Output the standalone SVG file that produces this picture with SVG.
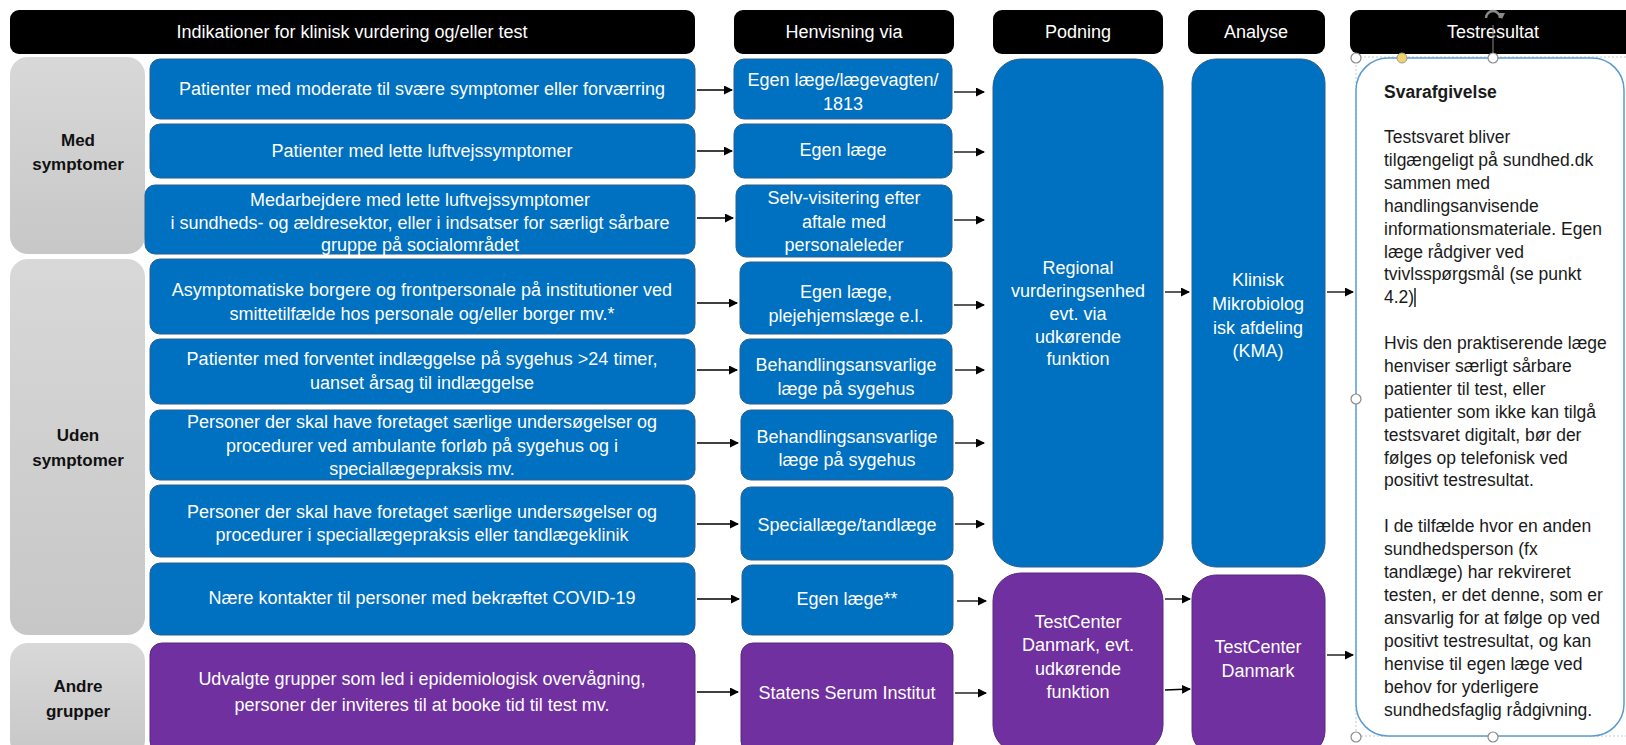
<svg xmlns="http://www.w3.org/2000/svg" width="1626" height="745" viewBox="0 0 1626 745">
<defs>
<style>
text{font-family:"Liberation Sans",Arial,sans-serif}
.hdr{fill:#000}
.ht{fill:#fff;font-size:18px;text-anchor:middle}
.cat{fill:url(#gg)}
.ct{font-size:17px;font-weight:bold;fill:#111;text-anchor:middle}
.b{fill:#0070c0;stroke:#2b5e8e;stroke-width:1}
.p{fill:#7030a0;stroke:#56287d;stroke-width:1}
.t{fill:#fff;font-size:18px;text-anchor:middle}
.c{stroke:#000;stroke-width:1.3;fill:none;marker-end:url(#ah)}
.rt{font-size:17.5px;fill:#1a1a1a}
.hd{fill:#fff;stroke:#8a8a8a;stroke-width:1.2}
</style>
<marker id="ah" markerWidth="9" markerHeight="9" refX="8" refY="4.5" orient="auto" markerUnits="userSpaceOnUse"><path d="M0,0 L9,4.5 L0,9 z" fill="#000"/></marker>
<linearGradient id="gg" x1="0" y1="0" x2="0" y2="1"><stop offset="0" stop-color="#d8d8d8"/><stop offset="1" stop-color="#c7c7c7"/></linearGradient>
</defs>
<rect width="1626" height="745" fill="#fff"/>

<g id="headers">
<g id="h1"><rect class="hdr" x="10" y="10" width="685" height="44" rx="9"/><text class="ht" x="352" y="38">Indikationer for klinisk vurdering og/eller test</text></g>
<g id="h2"><rect class="hdr" x="734" y="10" width="220" height="44" rx="9"/><text class="ht" x="844" y="38">Henvisning via</text></g>
<g id="h3"><rect class="hdr" x="993" y="10" width="170" height="44" rx="9"/><text class="ht" x="1078" y="38">Podning</text></g>
<g id="h4"><rect class="hdr" x="1188" y="10" width="137" height="44" rx="9"/><text class="ht" x="1256" y="38">Analyse</text></g>
<g id="h5"><rect class="hdr" x="1350" y="10" width="290" height="44" rx="9"/><text class="ht" x="1493" y="38">Testresultat</text></g>
</g>

<g id="categories">
<g id="cat-med"><rect class="cat" x="10" y="57" width="135" height="197" rx="18"/><text class="ct" x="78" y="146">Med</text><text class="ct" x="78" y="170">symptomer</text></g>
<g id="cat-uden"><rect class="cat" x="10" y="259" width="135" height="376" rx="18"/><text class="ct" x="78" y="441">Uden</text><text class="ct" x="78" y="466">symptomer</text></g>
<g id="cat-andre"><rect class="cat" x="10" y="643" width="135" height="115" rx="18"/><text class="ct" x="78" y="692">Andre</text><text class="ct" x="78" y="717">grupper</text></g>
</g>

<g id="indications">
<g id="i1"><rect class="b" x="150" y="59" width="545" height="60" rx="10"/><text class="t" x="422" y="95">Patienter med moderate til svære symptomer eller forværring</text></g>
<g id="i2"><rect class="b" x="150" y="124" width="545" height="54" rx="10"/><text class="t" x="422" y="157">Patienter med lette luftvejssymptomer</text></g>
<g id="i3"><rect class="b" x="145" y="185" width="550" height="69" rx="10"/><text class="t" x="420" y="206">Medarbejdere med lette luftvejssymptomer</text><text class="t" x="420" y="229">i sundheds- og ældresektor, eller i indsatser for særligt sårbare</text><text class="t" x="420" y="251">gruppe på socialområdet</text></g>
<g id="i4"><rect class="b" x="150" y="259" width="545" height="75" rx="10"/><text class="t" x="422" y="296">Asymptomatiske borgere og frontpersonale på institutioner ved</text><text class="t" x="422" y="320">smittetilfælde hos personale og/eller borger mv.*</text></g>
<g id="i5"><rect class="b" x="150" y="339" width="545" height="65" rx="10"/><text class="t" x="422" y="365">Patienter med forventet indlæggelse på sygehus &gt;24 timer,</text><text class="t" x="422" y="389">uanset årsag til indlæggelse</text></g>
<g id="i6"><rect class="b" x="150" y="410" width="545" height="70" rx="10"/><text class="t" x="422" y="428">Personer der skal have foretaget særlige undersøgelser og</text><text class="t" x="422" y="452">procedurer ved ambulante forløb på sygehus og i</text><text class="t" x="422" y="475">speciallægepraksis mv.</text></g>
<g id="i7"><rect class="b" x="150" y="485" width="545" height="72" rx="10"/><text class="t" x="422" y="518">Personer der skal have foretaget særlige undersøgelser og</text><text class="t" x="422" y="541">procedurer i speciallægepraksis eller tandlægeklinik</text></g>
<g id="i8"><rect class="b" x="150" y="563" width="545" height="72" rx="10"/><text class="t" x="422" y="604">Nære kontakter til personer med bekræftet COVID-19</text></g>
<g id="i9"><rect class="p" x="150" y="643" width="545" height="110" rx="12"/><text class="t" x="422" y="685">Udvalgte grupper som led i epidemiologisk overvågning,</text><text class="t" x="422" y="711">personer der inviteres til at booke tid til test mv.</text></g>
</g>

<g id="referrals">
<g id="r1"><rect class="b" x="734" y="59" width="218" height="60" rx="10"/><text class="t" x="843" y="86">Egen læge/lægevagten/</text><text class="t" x="843" y="110">1813</text></g>
<g id="r2"><rect class="b" x="734" y="124" width="218" height="54" rx="10"/><text class="t" x="843" y="156">Egen læge</text></g>
<g id="r3"><rect class="b" x="736" y="185" width="216" height="72" rx="10"/><text class="t" x="844" y="204">Selv-visitering efter</text><text class="t" x="844" y="228">aftale med</text><text class="t" x="844" y="251">personaleleder</text></g>
<g id="r4"><rect class="b" x="740" y="262" width="212" height="72" rx="10"/><text class="t" x="846" y="298">Egen læge,</text><text class="t" x="846" y="322">plejehjemslæge e.l.</text></g>
<g id="r5"><rect class="b" x="740" y="339" width="212" height="65" rx="10"/><text class="t" x="846" y="371">Behandlingsansvarlige</text><text class="t" x="846" y="395">læge på sygehus</text></g>
<g id="r6"><rect class="b" x="741" y="410" width="212" height="70" rx="10"/><text class="t" x="847" y="443">Behandlingsansvarlige</text><text class="t" x="847" y="466">læge på sygehus</text></g>
<g id="r7"><rect class="b" x="741" y="487" width="212" height="73" rx="10"/><text class="t" x="847" y="531">Speciallæge/tandlæge</text></g>
<g id="r8"><rect class="b" x="742" y="565" width="211" height="70" rx="10"/><text class="t" x="847" y="605">Egen læge**</text></g>
<g id="r9"><rect class="p" x="741" y="643" width="212" height="110" rx="12"/><text class="t" x="847" y="699">Statens Serum Institut</text></g>
</g>

<g id="podning">
<g id="pod-regional"><rect class="b" x="993" y="59" width="170" height="508" rx="28"/><text class="t" x="1078" y="274">Regional</text><text class="t" x="1078" y="297">vurderingsenhed</text><text class="t" x="1078" y="320">evt.  via</text><text class="t" x="1078" y="343">udkørende</text><text class="t" x="1078" y="365">funktion</text></g>
<g id="pod-testcenter"><rect class="p" x="993" y="573" width="170" height="180" rx="28"/><text class="t" x="1078" y="628">TestCenter</text><text class="t" x="1078" y="651">Danmark, evt.</text><text class="t" x="1078" y="675">udkørende</text><text class="t" x="1078" y="698">funktion</text></g>
</g>

<g id="analyse">
<g id="ana-kma"><rect class="b" x="1192" y="59" width="133" height="508" rx="24"/><text class="t" x="1258" y="286">Klinisk</text><text class="t" x="1258" y="310">Mikrobiolog</text><text class="t" x="1258" y="334">isk afdeling</text><text class="t" x="1258" y="357">(KMA)</text></g>
<g id="ana-testcenter"><rect class="p" x="1192" y="575" width="133" height="180" rx="24"/><text class="t" x="1258" y="653">TestCenter</text><text class="t" x="1258" y="677">Danmark</text></g>
</g>

<g id="testresultat">
<rect x="1356" y="57" width="290" height="679" fill="none" stroke="#c8c8c8" stroke-width="1" stroke-dasharray="2,2"/>
<rect x="1356" y="58" width="268" height="678" rx="32" fill="#fff" stroke="#5b9bd5" stroke-width="1.5"/>
<text class="rt" x="1384" y="98" font-weight="bold">Svarafgivelse</text>
<text class="rt" x="1384" y="143">
<tspan x="1384" dy="0">Testsvaret bliver</tspan>
<tspan x="1384" dy="22.9">tilgængeligt på sundhed.dk</tspan>
<tspan x="1384" dy="22.9">sammen med</tspan>
<tspan x="1384" dy="22.9">handlingsanvisende</tspan>
<tspan x="1384" dy="22.9">informationsmateriale. Egen</tspan>
<tspan x="1384" dy="22.9">læge rådgiver ved</tspan>
<tspan x="1384" dy="22.9">tvivlsspørgsmål (se punkt</tspan>
<tspan x="1384" dy="22.9">4.2)</tspan>
<tspan x="1384" dy="45.8">Hvis den praktiserende læge</tspan>
<tspan x="1384" dy="22.9">henviser særligt sårbare</tspan>
<tspan x="1384" dy="22.9">patienter til test, eller</tspan>
<tspan x="1384" dy="22.9">patienter som ikke kan tilgå</tspan>
<tspan x="1384" dy="22.9">testsvaret digitalt, bør der</tspan>
<tspan x="1384" dy="22.9">følges op telefonisk ved</tspan>
<tspan x="1384" dy="22.9">positivt testresultat.</tspan>
<tspan x="1384" dy="45.8">I de tilfælde hvor en anden</tspan>
<tspan x="1384" dy="22.9">sundhedsperson (fx</tspan>
<tspan x="1384" dy="22.9">tandlæge) har rekvireret</tspan>
<tspan x="1384" dy="22.9">testen, er det denne, som er</tspan>
<tspan x="1384" dy="22.9">ansvarlig for at følge op ved</tspan>
<tspan x="1384" dy="22.9">positivt testresultat, og kan</tspan>
<tspan x="1384" dy="22.9">henvise til egen læge ved</tspan>
<tspan x="1384" dy="22.9">behov for yderligere</tspan>
<tspan x="1384" dy="22.9">sundhedsfaglig rådgivning.</tspan>
</text>
<line x1="1415" y1="288" x2="1415" y2="307" stroke="#000" stroke-width="1.3"/>
<line x1="1493" y1="25" x2="1493" y2="58" stroke="#8a8a8a" stroke-width="1"/>
<path d="M1486,18 A7,7 0 1 1 1500,18" fill="none" stroke="#8a8a8a" stroke-width="2.5"/>
<path d="M1497,13 L1502,19 L1505,13 z" fill="#8a8a8a"/>
<circle class="hd" cx="1356" cy="58" r="5"/>
<circle cx="1402" cy="58" r="5" fill="#f2d36b" stroke="#9a9a9a" stroke-width="1"/>
<circle class="hd" cx="1493" cy="58" r="5"/>
<circle class="hd" cx="1356" cy="399" r="5"/>
<circle class="hd" cx="1356" cy="737" r="5"/>
<circle class="hd" cx="1493" cy="737" r="5"/>
</g>

<g id="connectors">
<line class="c" x1="697" y1="90" x2="732" y2="90"/>
<line class="c" x1="697" y1="151" x2="732" y2="151"/>
<line class="c" x1="697" y1="218" x2="733" y2="218"/>
<line class="c" x1="697" y1="303" x2="737" y2="303"/>
<line class="c" x1="697" y1="370" x2="737" y2="370"/>
<line class="c" x1="697" y1="443" x2="738" y2="443"/>
<line class="c" x1="697" y1="524" x2="738" y2="524"/>
<line class="c" x1="697" y1="599" x2="739" y2="599"/>
<line class="c" x1="697" y1="692" x2="738" y2="692"/>
<line class="c" x1="954" y1="92" x2="984" y2="92"/>
<line class="c" x1="954" y1="152" x2="984" y2="152"/>
<line class="c" x1="954" y1="220" x2="984" y2="220"/>
<line class="c" x1="954" y1="305" x2="984" y2="305"/>
<line class="c" x1="955" y1="370" x2="984" y2="370"/>
<line class="c" x1="955" y1="443" x2="984" y2="443"/>
<line class="c" x1="955" y1="524" x2="984" y2="524"/>
<line class="c" x1="957" y1="601" x2="986" y2="601"/>
<line class="c" x1="955" y1="693" x2="986" y2="693"/>
<line class="c" x1="1165" y1="292" x2="1189" y2="292"/>
<line class="c" x1="1327" y1="292" x2="1353" y2="292"/>
<line class="c" x1="1165" y1="599" x2="1190" y2="599"/>
<line class="c" x1="1165" y1="690" x2="1190" y2="689"/>
<line class="c" x1="1327" y1="655" x2="1353" y2="655"/>
</g>
</svg>
